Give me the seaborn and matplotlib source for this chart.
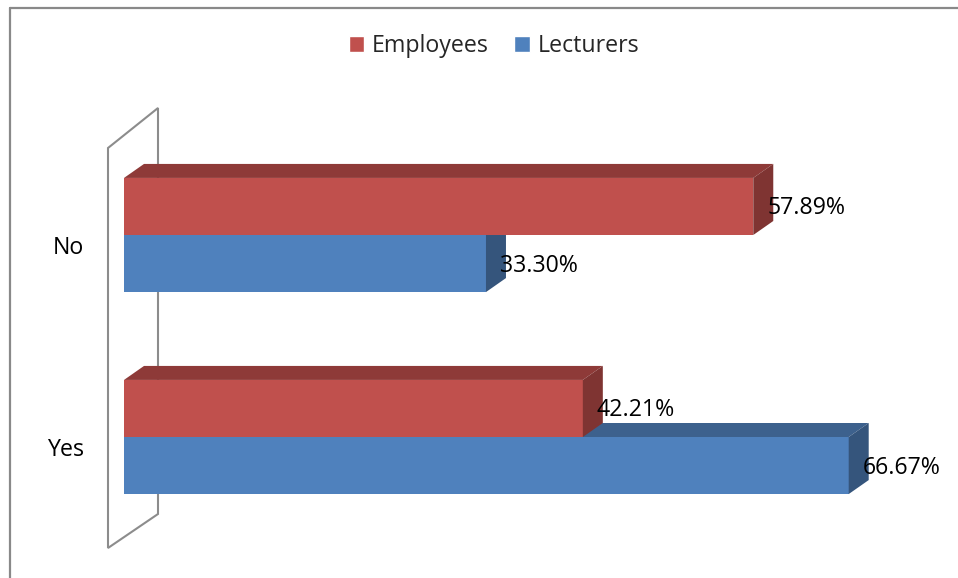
import matplotlib
matplotlib.use("Agg")
import matplotlib.pyplot as plt
from matplotlib.patches import Polygon
from matplotlib.lines import Line2D
import seaborn as sns
import pandas as pd

# ---- data -------------------------------------------------------------
responses = ["No", "Yes"]
groups = ["Employees", "Lecturers"]
employees = [57.89, 42.21]
lecturers = [33.30, 66.67]

df = pd.DataFrame({
    "Response": responses * 2,
    "Group": [groups[0]] * 2 + [groups[1]] * 2,
    "Percent": employees + lecturers,
})

# ---- styling ----------------------------------------------------------
sns.set_theme(style="white")
plt.rcParams["font.family"] = ["Open Sans", "DejaVu Sans"]
FS = 16.7

front = {"Employees": "#C0504D", "Lecturers": "#4F81BD"}
top_c = {"Employees": "#8E3A38", "Lecturers": "#3D618D"}
side_c = {"Employees": "#7F3432", "Lecturers": "#35557C"}

W, H = 958, 578
fig = plt.figure(figsize=(W / 100, H / 100), dpi=100)
ax = fig.add_axes([0, 0, 1, 1])

sns.barplot(data=df, y="Response", x="Percent", hue="Group", orient="h",
            order=responses, hue_order=groups,
            palette=front, saturation=1, width=0.565, gap=0,
            errorbar=None, ax=ax, legend=True)

# axis mapping: 10.87 px per percent, 202 px per category step
PX_X = 10.87
PX_Y = 202.0
ax.set_xlim(-124 / PX_X, (W - 124) / PX_X)
ax.set_ylim((H - 235) / PX_Y, -235 / PX_Y)
ax.set_axis_off()

# depth of the extruded bars (data units)
DX = 20 / PX_X
DY = 14 / PX_Y

# back wall behind the category axis
wall_front_x, wall_back_x = -16 / PX_X, 34 / PX_X
wall = [(wall_front_x, 313 / PX_Y), (wall_back_x, 279 / PX_Y),
        (wall_back_x, -127 / PX_Y), (wall_front_x, -87 / PX_Y)]
ax.add_patch(Polygon(wall, closed=True, fill=False, edgecolor="#8C8C8C",
                     linewidth=1.5, zorder=1))

# give each bar a top and a side face
for container, grp in zip(ax.containers, groups):
    z = 3 if grp == "Employees" else 2
    for rect, val in zip(container, df[df.Group == grp]["Percent"]):
        rect.set_zorder(z)
        rect.set_edgecolor("none")
        x0 = rect.get_x()
        x1 = x0 + rect.get_width()
        y0 = rect.get_y()
        h = rect.get_height()
        top = [(x0, y0), (x1, y0), (x1 + DX, y0 - DY), (x0 + DX, y0 - DY)]
        side = [(x1, y0), (x1 + DX, y0 - DY), (x1 + DX, y0 + h - DY), (x1, y0 + h)]
        ax.add_patch(Polygon(top, closed=True, facecolor=top_c[grp],
                             edgecolor="none", zorder=z))
        ax.add_patch(Polygon(side, closed=True, facecolor=side_c[grp],
                             edgecolor="none", zorder=z))
        ax.annotate(f"{val:.2f}%", xy=(x1, y0 + h / 2),
                    xytext=(14 * 0.72, -2 * 0.72), textcoords="offset points",
                    ha="left", va="center", fontsize=FS, color="black",
                    zorder=5)

# category labels
for i, r in enumerate(responses):
    ax.text(-40 / PX_X, i + 13 / PX_Y, r, ha="right", va="center",
            fontsize=FS, color="black")

# legend
handles, labels = ax.get_legend_handles_labels()
ax.legend(handles, labels, loc="center", bbox_to_anchor=(494 / W, 1 - 46 / H),
          bbox_transform=fig.transFigure, ncol=2, frameon=False,
          fontsize=FS, handlelength=0.66, handleheight=0.66,
          handletextpad=0.33, columnspacing=1.1, borderpad=0)

# outer chart frame (top and left edges)
fig.add_artist(Line2D([9.5 / W, 9.5 / W], [0, 1 - 7.5 / H],
                      transform=fig.transFigure, color="#898989", linewidth=1.6))
fig.add_artist(Line2D([9.5 / W, 1], [1 - 7.5 / H, 1 - 7.5 / H],
                      transform=fig.transFigure, color="#898989", linewidth=1.6))

fig.savefig("out.png", dpi=100)
